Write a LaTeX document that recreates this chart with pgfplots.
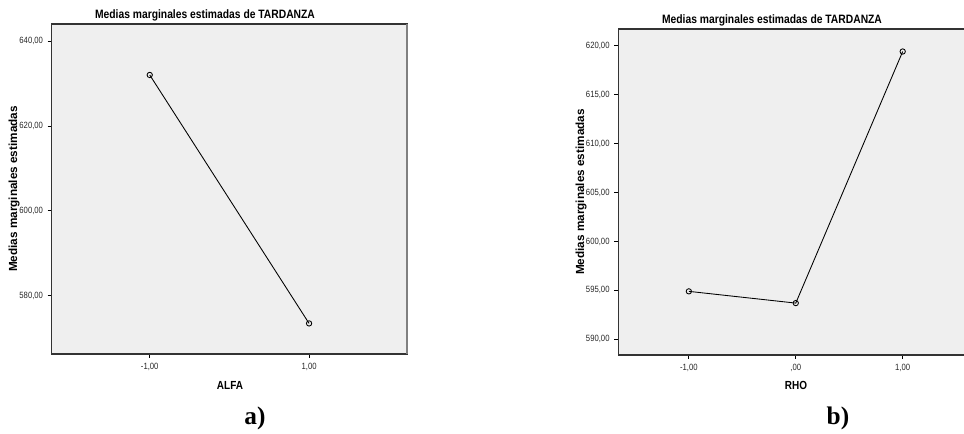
\documentclass[border=0pt]{standalone}
\usepackage{pgfplots}
\pgfplotsset{compat=1.18}
\usepackage{fontspec}
\setmainfont{Liberation Sans}
\newfontfamily\narrow[FakeStretch=0.85]{Liberation Sans}
\newfontfamily\serifb{Liberation Serif}
\definecolor{bg}{HTML}{EFEFEF}
\definecolor{frame}{HTML}{333333}
\begin{document}
\begin{tikzpicture}
\useasboundingbox (0,0) rectangle (723pt,325.5pt);
\pgfplotsset{
  spssaxis/.style={
    scale only axis, clip=false,
    axis background/.style={fill=bg},
    axis line style={draw=frame, line width=1.1pt},
    tick align=outside, xtick pos=bottom, ytick pos=left,
    major tick length=3pt,
    tick style={black, line width=0.6pt},
    ticklabel style={font=\narrow\fontsize{6.8}{8}\selectfont, text=black!85},
  },
  spssline/.style={black, line width=0.65pt, mark=o, mark size=2pt, mark options={solid, fill=none, line width=0.65pt}},
}
% ---------- a) ----------
\begin{axis}[spssaxis, at={(38.8pt,60pt)}, anchor=south west,
  width=266.5pt, height=247.5pt,
  xmin=-2.23, xmax=2.23, ymin=566.3, ymax=644,
  xtick={-1,1}, xticklabels={{-1,00},{1,00}},
  ytick={580,600,620,640}, yticklabels={{580,00},{600,00},{620,00},{640,00}}]
\addplot[spssline] coordinates {(-1,632.0) (1,573.5)};
\draw[draw=gray, line width=1.1pt] (rel axis cs:1,0) -- (rel axis cs:1,1);
\end{axis}
\node[font=\narrow\bfseries\fontsize{9.1}{10}\selectfont] at (153.75pt,314.25pt) {Medias marginales estimadas de TARDANZA};
\node[font=\narrow\bfseries\fontsize{8.8}{10}\selectfont] at (172.5pt,36.75pt) {ALFA};
\node[rotate=90, font=\bfseries\fontsize{8.8}{10}\selectfont] at (10.5pt,183.75pt) {Medias marginales estimadas};
\node[font=\serifb\bfseries\fontsize{19}{22}\selectfont] at (191.25pt,12pt) {a)};
% ---------- b) ----------
\begin{axis}[spssaxis, at={(463.7pt,59.25pt)}, anchor=south west,
  width=266.25pt, height=244.5pt,
  xmin=-1.66, xmax=1.66, ymin=588.4, ymax=621.7,
  xtick={-1,0,1}, xticklabels={{-1,00},{,00},{1,00}},
  ytick={590,595,600,605,610,615,620},
  yticklabels={{590,00},{595,00},{600,00},{605,00},{610,00},{615,00},{620,00}}]
\addplot[spssline] coordinates {(-1,594.9) (0,593.7) (1,619.4)};
\end{axis}
\node[font=\narrow\bfseries\fontsize{9.1}{10}\selectfont] at (579pt,310.5pt) {Medias marginales estimadas de TARDANZA};
\node[font=\narrow\bfseries\fontsize{8.8}{10}\selectfont] at (597pt,36.75pt) {RHO};
\node[rotate=90, font=\bfseries\fontsize{8.8}{10}\selectfont] at (435.75pt,181.5pt) {Medias marginales estimadas};
\node[font=\serifb\bfseries\fontsize{19}{22}\selectfont] at (628.5pt,12pt) {b)};
\end{tikzpicture}
\end{document}
